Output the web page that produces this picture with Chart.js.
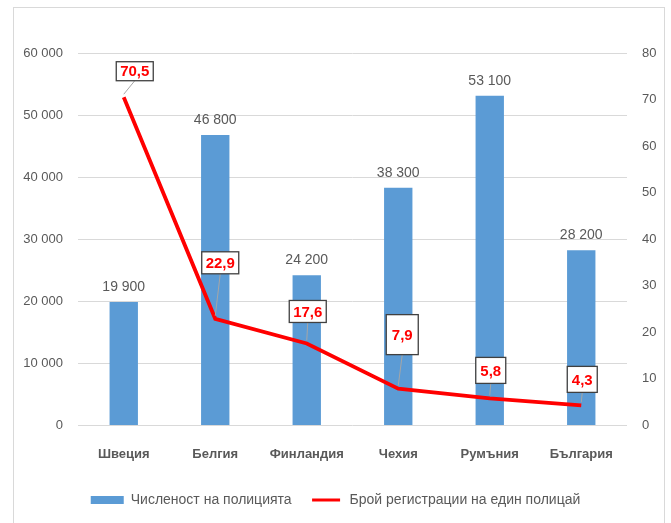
<!DOCTYPE html>
<html lang="bg">
<head>
<meta charset="UTF-8">
<title>Полиция</title>
<script src="https://cdn.jsdelivr.net/npm/chart.js@4.4.0/dist/chart.umd.min.js"></script>
<style>
    html, body { margin:0; background:#fff; overflow:hidden; }
    #wrap { position:relative; width:671px; height:523px; overflow:hidden; }
    #frame { position:absolute; left:13px; top:7px; width:650px; height:530px; border:1px solid #d9d9d9; border-width:1px 1px 0 1px; }
    canvas { position:absolute; left:0; top:0; }
</style>
</head>
<body>
<div id="wrap">
    <div id="frame"></div>
    <canvas id="myChart" width="671" height="523"></canvas>
</div>
<script>
// данни
var v_countries = ["Швеция", "Белгия", "Финландия", "Чехия", "Румъния", "България"];
var v_police = [19900, 46800, 24200, 38300, 53100, 28200];
var v_perPoliceman = [70.5, 22.9, 17.6, 7.9, 5.8, 4.3];
var v_leftTicks = [0, 10000, 20000, 30000, 40000, 50000, 60000];
var v_rightTicks = [0, 10, 20, 30, 40, 50, 60, 70, 80];

var v_font = "'Liberation Sans', Arial, sans-serif";

// 60 000 формат с интервал
function f_fmt(v) {
    return String(v).replace(/\B(?=(\d{3})+(?!\d))/g, " ");
}

// етикети на стълбовете и на линията (кутийки)
var labelPlugin = {
    id: "labels",
    afterDatasetsDraw: function(chart) {
        var ctx = chart.ctx;
        ctx.save();
        // стълбове
        var bars = chart.getDatasetMeta(0).data;
        ctx.font = "14px " + v_font;
        ctx.fillStyle = "#595959";
        ctx.textAlign = "center";
        ctx.textBaseline = "bottom";
        bars.forEach(function(b, i) {
            ctx.fillText(f_fmt(v_police[i]), b.x, b.y - 8);
        });
        // линия
        var pts = chart.getDatasetMeta(1).data;
        var offs = [[11, -26, 37, 19], [5, -56, 37, 22], [1, -32, 37, 22], [4, -54, 32, 40], [1, -28, 30, 26], [1, -26, 30, 26]];
        ctx.font = "bold 15px " + v_font;
        pts.forEach(function(p, i) {
            var o = offs[i];
            var cx = p.x + o[0], cy = p.y + o[1];
            var x0 = cx - o[2] / 2, y0 = cy - o[3] / 2;
            // водеща линия
            ctx.strokeStyle = "#a6a6a6";
            ctx.lineWidth = 1;
            ctx.beginPath();
            ctx.moveTo(p.x, p.y - 3);
            ctx.lineTo(cx, y0 + o[3]);
            ctx.stroke();
            ctx.fillStyle = "#fff";
            ctx.fillRect(x0, y0, o[2], o[3]);
            ctx.strokeStyle = "#404040";
            ctx.lineWidth = 1.3;
            ctx.strokeRect(x0, y0, o[2], o[3]);
            ctx.fillStyle = "#ff0000";
            ctx.textBaseline = "middle";
            ctx.fillText(String(v_perPoliceman[i]).replace(".", ","), cx, cy + 1);
        });
        ctx.restore();
    }
};

const ctx = document.getElementById('myChart').getContext('2d');
const myChart = new Chart(ctx, {
    data: {
        labels: v_countries,
        datasets: [{
            type: "bar",
            label: "Численост на полицията",
            data: v_police,
            backgroundColor: "#5b9bd5",
            yAxisID: "y",
            categoryPercentage: 1,
            barPercentage: 0.31,
            order: 2
        },
        {
            type: "line", // линията над стълбовете
            label: "Брой регистрации на един полицай",
            data: v_perPoliceman,
            borderColor: "#ff0000",
            backgroundColor: "#ff0000",
            borderWidth: 3.8,
            pointRadius: 0,
            tension: 0,
            yAxisID: "y2",
            order: 1
        }]
    },
    options: {
        responsive: false,
        animation: false,
        layout: { padding: { top: 53, bottom: 6, left: 0, right: 0 } },
        plugins: {
            tooltip: { enabled: false },
            legend: {
                position: "bottom",
                labels: {
                    font: { family: v_font, size: 14 },
                    color: "#595959",
                    padding: 18,
                    boxWidth: 33,
                    boxHeight: 8,
                    generateLabels: function(chart) {
                        return chart.data.datasets.map(function(d, i) {
                            // линията - тънка червена, бялата рамка я изтънява
                            return {
                                text: d.label,
                                fillStyle: d.backgroundColor,
                                strokeStyle: "#fff",
                                lineWidth: i == 1 ? 5 : 0,
                                fontColor: "#595959",
                                datasetIndex: i
                            };
                        });
                    }
                }
            }
        },
        scales: {
            x: {
                grid: { display: false },
                border: { display: false },
                ticks: { color: "#595959", font: { family: v_font, size: 13, weight: "bold" }, padding: 13 }
            },
            y: {
                position: "left",
                min: 0, max: 60000,
                afterBuildTicks: function(s) { s.ticks = v_leftTicks.map(function(v) { return { value: v }; }); },
                afterFit: function(s) { s.width = 78; },
                grid: { color: "#d9d9d9", drawTicks: false },
                border: { display: false },
                ticks: { color: "#595959", font: { family: v_font, size: 13 }, padding: 15, callback: function(v) { return f_fmt(v); } }
            },
            y2: {
                position: "right",
                min: 0, max: 80,
                afterBuildTicks: function(s) { s.ticks = v_rightTicks.map(function(v) { return { value: v }; }); },
                afterFit: function(s) { s.width = 44; },
                grid: { display: false, drawTicks: false },
                border: { display: false },
                ticks: { color: "#595959", font: { family: v_font, size: 13 }, padding: 15 }
            }
        }
    },
    plugins: [labelPlugin]
});
</script>
</body>
</html>
